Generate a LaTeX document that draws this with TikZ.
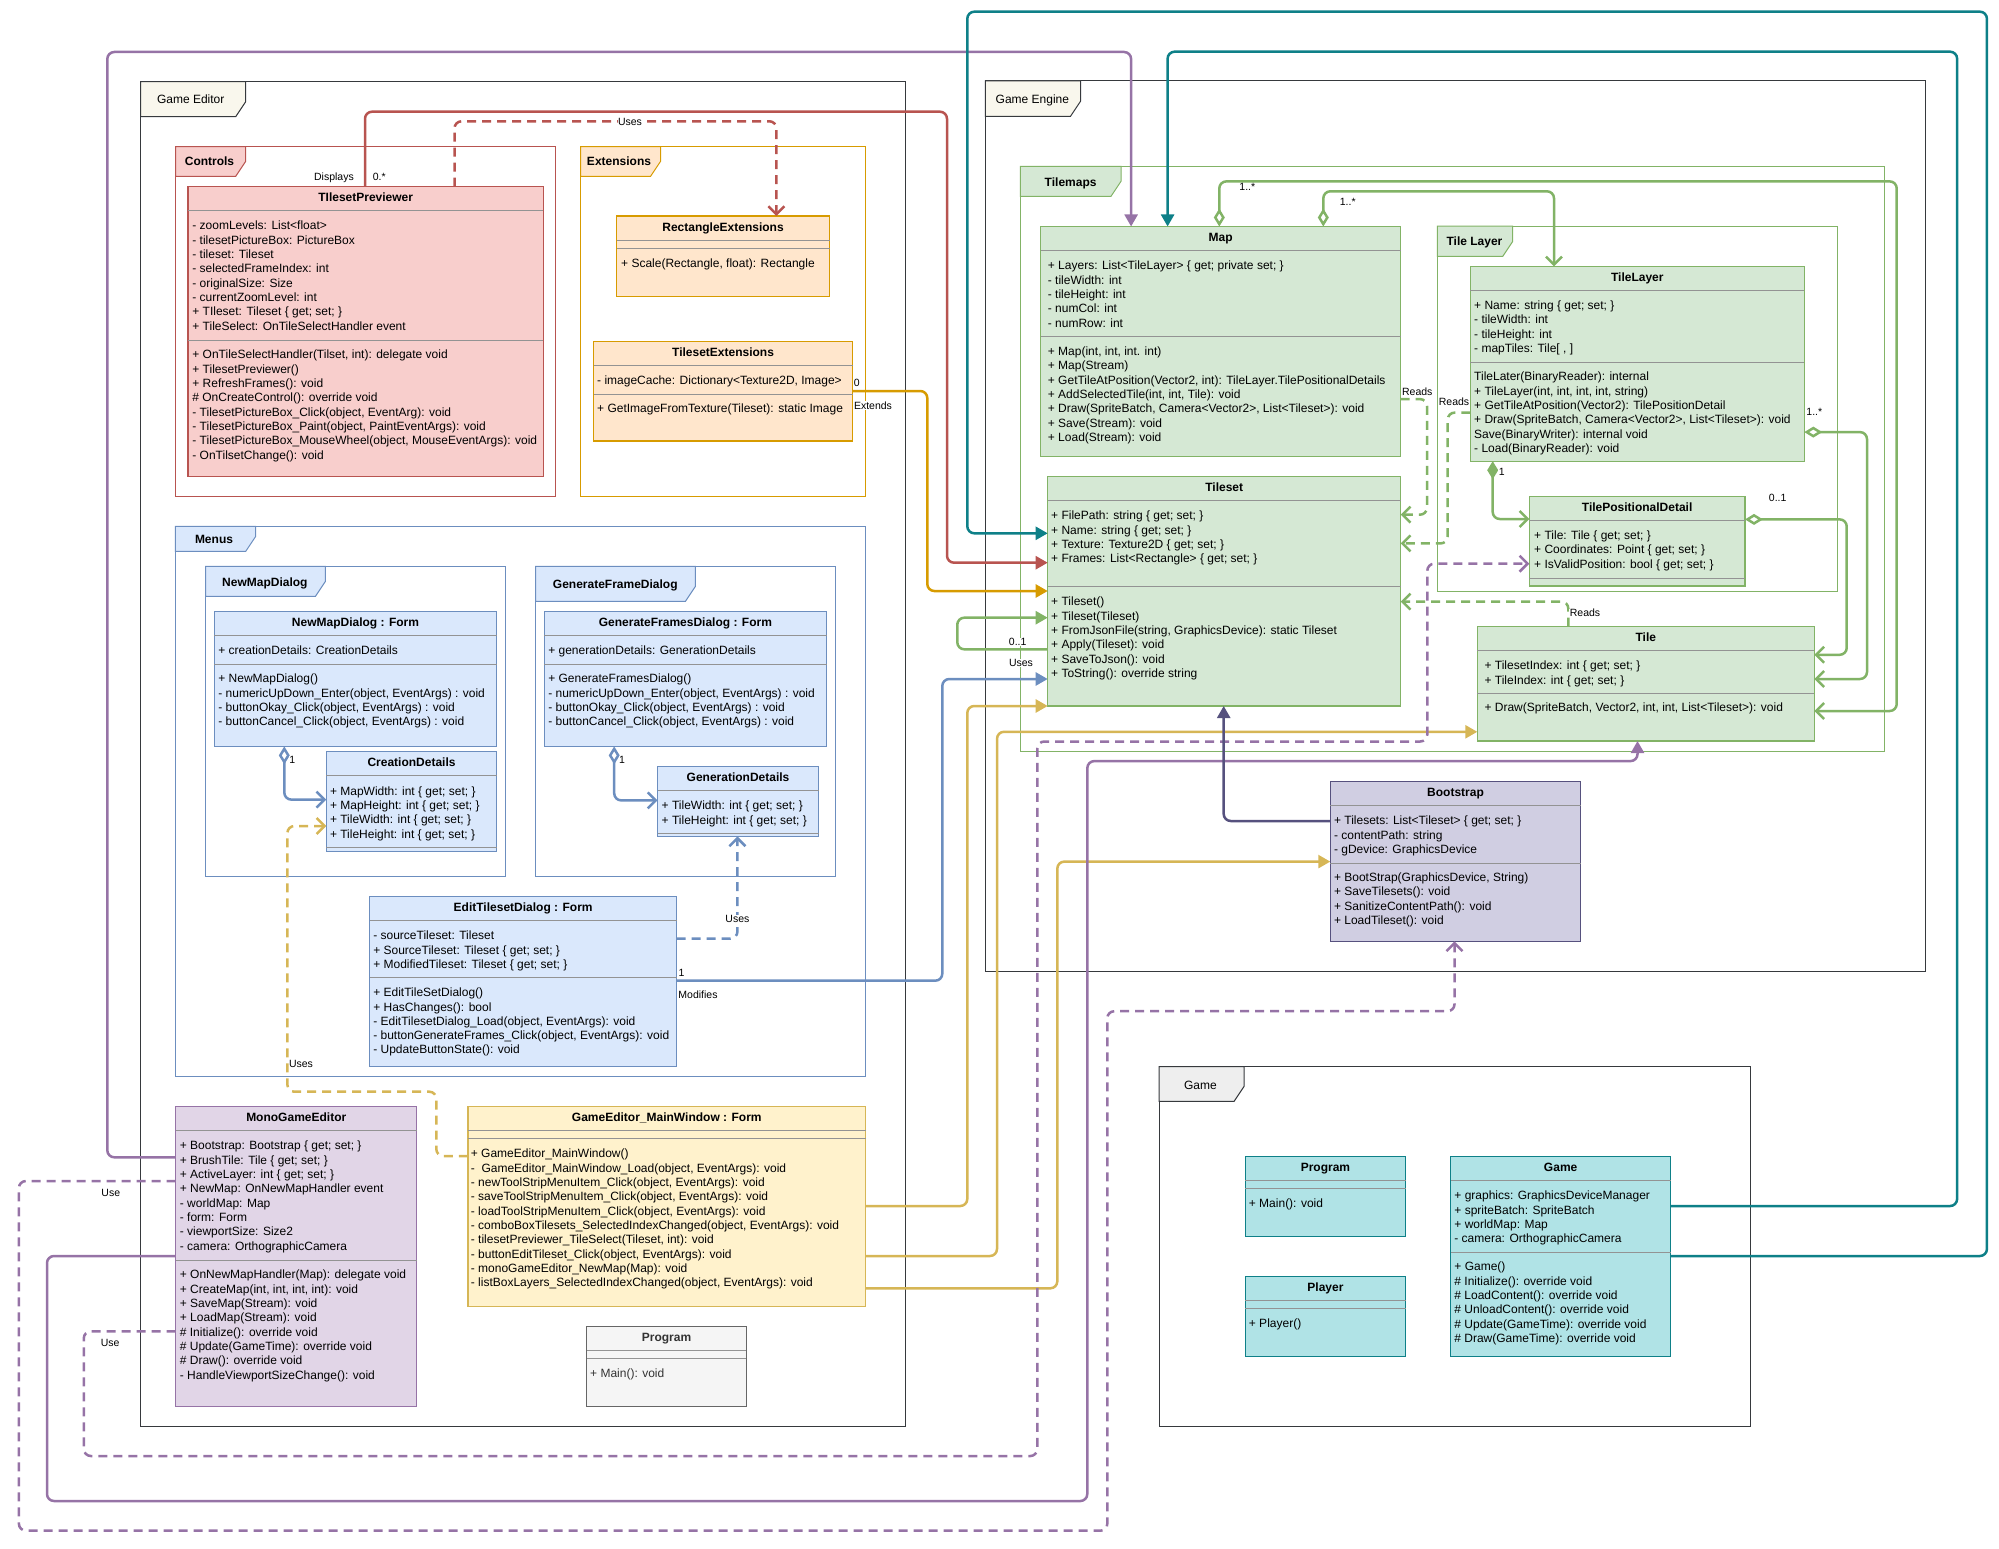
\documentclass[tikz,border=0pt]{standalone}
\usepackage{fontspec}
\setmainfont{Liberation Sans}
\usetikzlibrary{calc,arrows.meta}

\definecolor{cRed}{HTML}{B85450}\definecolor{cRedF}{HTML}{F8CECC}
\definecolor{cOra}{HTML}{D79B00}\definecolor{cOraF}{HTML}{FFE6CC}
\definecolor{cBlu}{HTML}{6C8EBF}\definecolor{cBluF}{HTML}{DAE8FC}
\definecolor{cGrn}{HTML}{82B366}\definecolor{cGrnF}{HTML}{D5E8D4}
\definecolor{cPur}{HTML}{9673A6}\definecolor{cPurF}{HTML}{E1D5E7}
\definecolor{cYel}{HTML}{D6B656}\definecolor{cYelF}{HTML}{FFF2CC}
\definecolor{cDpu}{HTML}{56517E}\definecolor{cDpuF}{HTML}{D0CEE2}
\definecolor{cTea}{HTML}{0E8088}\definecolor{cTeaF}{HTML}{B0E3E6}
\definecolor{cGry}{HTML}{666666}\definecolor{cGryF}{HTML}{F5F5F5}
\definecolor{cFrm}{HTML}{36393D}\definecolor{cFrmF}{HTML}{F9F7ED}
\definecolor{cGamF}{HTML}{EEEEEE}

\tikzset{
  cls/.style={draw, line width=1.2pt, anchor=north west, inner sep=0pt, outer sep=0pt},
  ttl/.style={anchor=base, inner sep=0pt, font=\bfseries\fontsize{12}{14}\selectfont},
  mem/.style={anchor=north west, align=left, inner sep=0pt, font=\fontsize{12}{14.3}\selectfont},
  sep/.style={draw=gray!85, line width=0.9pt},
  frm/.style={line width=1pt},
  flbl/.style={anchor=base, inner sep=0pt, font=\fontsize{12}{14}\selectfont},
  lbl/.style={anchor=base, inner sep=0.5pt, fill=white, font=\fontsize{10.5}{12}\selectfont},
  conn/.style={line width=2.5pt, rounded corners=7pt},
  dsh/.style={dash pattern=on 9pt off 6pt},
  blk/.style={-{Triangle[length=12pt,width=13pt]}},
  opn/.style={-{Straight Barb[length=8pt,width=16pt]}},
  agg/.style={{Diamond[open,length=18pt,width=11pt]}-{Straight Barb[length=8pt,width=16pt]}},
  cmp/.style={{Diamond[length=18pt,width=11pt]}-{Straight Barb[length=8pt,width=16pt]}},
}

% frame: x1,y1,x2,y2,tab x,tab y,stroke,fill
\newcommand\umlframe[8]{%
  \draw[frm,draw=#7] (#1,#2) rectangle (#3,#4);
  \filldraw[frm,draw=#7,fill=#8] (#1,#2) -- (#5,#2) -- (#5,#6-15) -- (#5-10,#6) -- (#1,#6) -- cycle;}

% class: name, style, x, y, w, h, title, separators
\newcommand\umlclass[8]{%
  \node[cls,#2,minimum width=#5pt,minimum height=#6pt] (#1) at (#3,#4) {};
  \node[ttl] (#1-t) at ($(#1.north)+(0,15)$) {#7};
  \foreach \s in {#8} \draw[sep] ($(#1.north west)+(0,\s)$) -- ($(#1.north east)+(0,\s)$);}

\begin{document}
\begin{tikzpicture}[x=1pt,y=-1pt]
  \useasboundingbox (0,0) rectangle (1999,1549);

  % frames
  \umlframe{140.7}{81.7}{905.3}{1426.5}{245.7}{116.7}{cFrm}{cFrmF}
  \node[flbl] (fEditor) at (190.7,103.5) {Game Editor};
  \umlframe{175.7}{146.7}{555.8}{496}{245.7}{176.3}{cRed}{cRedF}
  \node[flbl,font=\bfseries\fontsize{12}{14}\selectfont] (fControls) at (209.5,166) {Controls};
  \umlframe{580.7}{146.7}{865.4}{496}{660.6}{176.3}{cOra}{cOraF}
  \node[flbl,font=\bfseries\fontsize{12}{14}\selectfont] (fExt) at (619,166) {Extensions};
  \umlframe{175.4}{526.4}{865.3}{1076}{255.7}{551.4}{cBlu}{cBluF}
  \node[flbl,font=\bfseries\fontsize{12}{14}\selectfont] (fMenus) at (214,543) {Menus};
  \umlframe{205.7}{566.4}{505.3}{876.1}{325.4}{596.4}{cBlu}{cBluF}
  \node[flbl,font=\bfseries\fontsize{12}{14}\selectfont] (fNewMap) at (264.9,586) {NewMapDialog};
  \umlframe{535.6}{566.4}{835.6}{876.1}{695.4}{601.4}{cBlu}{cBluF}
  \node[flbl,font=\bfseries\fontsize{12}{14}\selectfont] (fGenFrame) at (615.3,588) {GenerateFrameDialog};
  \umlframe{985.3}{81}{1925.4}{971}{1080.5}{116.3}{cFrm}{cFrmF}
  \node[flbl] (fEngine) at (1032.4,103.3) {Game Engine};
  \umlframe{1020.4}{166.3}{1884.9}{751.5}{1121}{196.3}{cGrn}{cGrnF}
  \node[flbl,font=\bfseries\fontsize{12}{14}\selectfont] (fTilemaps) at (1070.6,186.3) {Tilemaps};
  \umlframe{1437.3}{226.2}{1837.3}{591.3}{1512.7}{256.4}{cGrn}{cGrnF}
  \node[flbl,font=\bfseries\fontsize{12}{14}\selectfont] (fTileLayer) at (1474.5,245.8) {Tile Layer};
  \umlframe{1159.2}{1066.7}{1750.5}{1426}{1244.1}{1101.3}{cFrm}{cGamF}
  \node[flbl] (fGame) at (1200.4,1089) {Game};

  % Game Editor classes
  \umlclass{tsp}{draw=cRed,fill=cRedF}{188}{186.7}{355.4}{289.6}{TIlesetPreviewer}{23.6,154}
  \node[mem] (tspA) at (192.2,219.7) {\strut- zoomLevels: List<float>\\- tilesetPictureBox: PictureBox\\- tileset: Tileset\\- selectedFrameIndex: int\\- originalSize: Size\\- currentZoomLevel: int\\+ TIleset: Tileset \{ get; set; \}\\+ TileSelect: OnTileSelectHandler event};
  \node[mem] (tspM) at (192.2,348.7) {\strut+ OnTileSelectHandler(Tilset, int): delegate void\\+ TilesetPreviewer()\\+ RefreshFrames(): void\\\# OnCreateControl(): override void\\- TilesetPictureBox\_Click(object, EventArg): void\\- TilesetPictureBox\_Paint(object, PaintEventArgs): void\\- TilesetPictureBox\_MouseWheel(object, MouseEventArgs): void\\- OnTilsetChange(): void};

  \umlclass{rext}{draw=cOra,fill=cOraF}{616.6}{216}{212.9}{80.3}{RectangleExtensions}{24.3,32.3}
  \node[mem] (rextM) at (621,257.7) {\strut+ Scale(Rectangle, float): Rectangle};
  \umlclass{text}{draw=cOra,fill=cOraF}{593.6}{341.7}{258.9}{99.3}{TilesetExtensions}{23.6,52.3}
  \node[mem] (textA) at (597,374.7) {\strut- imageCache: Dictionary<Texture2D, Image>};
  \node[mem] (textM) at (597,402.7) {\strut+ GetImageFromTexture(Tileset): static Image};

  \umlclass{nmd}{draw=cBlu,fill=cBluF}{214.2}{611.4}{282.6}{135}{NewMapDialog : Form}{24,53.2}
  \node[mem] (nmdA) at (218.2,644.7) {\strut+ creationDetails: CreationDetails};
  \node[mem] (nmdM) at (218.2,672.6) {\strut+ NewMapDialog()\\- numericUpDown\_Enter(object, EventArgs) : void\\- buttonOkay\_Click(object, EventArgs) : void\\- buttonCancel\_Click(object, EventArgs) : void};
  \umlclass{cdet}{draw=cBlu,fill=cBluF}{326.3}{751.4}{170.5}{100}{CreationDetails}{24,95.7}
  \node[mem] (cdetA) at (329.8,785) {\strut+ MapWidth: int \{ get; set; \}\\+ MapHeight: int \{ get; set; \}\\+ TileWidth: int \{ get; set; \}\\+ TileHeight: int \{ get; set; \}};

  \umlclass{gfd}{draw=cBlu,fill=cBluF}{544.1}{611.4}{282.6}{135}{GenerateFramesDialog : Form}{24,53.2}
  \node[mem] (gfdA) at (548.1,644.7) {\strut+ generationDetails: GenerationDetails};
  \node[mem] (gfdM) at (548.1,672.6) {\strut+ GenerateFramesDialog()\\- numericUpDown\_Enter(object, EventArgs) : void\\- buttonOkay\_Click(object, EventArgs) : void\\- buttonCancel\_Click(object, EventArgs) : void};
  \umlclass{gdet}{draw=cBlu,fill=cBluF}{657.5}{766.4}{161.1}{70}{GenerationDetails}{24,66.8}
  \node[mem] (gdetA) at (661.5,799.7) {\strut+ TileWidth: int \{ get; set; \}\\+ TileHeight: int \{ get; set; \}};

  \umlclass{etd}{draw=cBlu,fill=cBluF}{369.6}{896.8}{307.1}{169.6}{EditTilesetDialog : Form}{23.6,81.1}
  \node[mem] (etdA) at (373.1,929.7) {\strut- sourceTileset: Tileset\\+ SourceTileset: Tileset \{ get; set; \}\\+ ModifiedTileset: Tileset \{ get; set; \}};
  \node[mem] (etdM) at (373.1,986.5) {\strut+ EditTileSetDialog()\\+ HasChanges(): bool\\- EditTilesetDialog\_Load(object, EventArgs): void\\- buttonGenerateFrames\_Click(object, EventArgs): void\\- UpdateButtonState(): void};

  \umlclass{mge}{draw=cPur,fill=cPurF}{175.7}{1106.3}{241.1}{300}{MonoGameEditor}{24,154}
  \node[mem] (mgeA) at (179.7,1139.7) {\strut+ Bootstrap: Bootstrap \{ get; set; \}\\+ BrushTile: Tile \{ get; set; \}\\+ ActiveLayer: int \{ get; set; \}\\+ NewMap: OnNewMapHandler event\\- worldMap: Map\\- form: Form\\- viewportSize: Size2\\- camera: OrthographicCamera};
  \node[mem] (mgeM) at (179.7,1268.7) {\strut+ OnNewMapHandler(Map): delegate void\\+ CreateMap(int, int, int, int): void\\+ SaveMap(Stream): void\\+ LoadMap(Stream): void\\\# Initialize(): override void\\\# Update(GameTime): override void\\\# Draw(): override void\\- HandleViewportSizeChange(): void};

  \umlclass{gmw}{draw=cYel,fill=cYelF}{467.9}{1106.3}{397.8}{200}{GameEditor\_MainWindow : Form}{24,32}
  \node[mem] (gmwM) at (470.7,1147.7) {\strut+ GameEditor\_MainWindow()\\-\ \ GameEditor\_MainWindow\_Load(object, EventArgs): void\\- newToolStripMenuItem\_Click(object, EventArgs): void\\- saveToolStripMenuItem\_Click(object, EventArgs): void\\- loadToolStripMenuItem\_Click(object, EventArgs): void\\- comboBoxTilesets\_SelectedIndexChanged(object, EventArgs): void\\- tilesetPreviewer\_TileSelect(Tileset, int): void\\- buttonEditTileset\_Click(object, EventArgs): void\\- monoGameEditor\_NewMap(Map): void\\- listBoxLayers\_SelectedIndexChanged(object, EventArgs): void};

  \umlclass{eprog}{draw=cGry,fill=cGryF,text=black!80}{586.7}{1326.3}{159.6}{80}{\color{black!80}Program}{24,32}
  \node[mem,text=black!80] (eprogM) at (590,1367.7) {\strut+ Main(): void};

  % Game Engine classes
  \umlclass{map}{draw=cGrn,fill=cGrnF}{1040.5}{226.5}{360.2}{229.7}{Map}{24.1,110.3}
  \node[mem] (mapA) at (1047.7,259.6) {\strut+ Layers: List<TileLayer> \{ get; private set; \}\\- tileWidth: int\\- tileHeight: int\\- numCol: int\\- numRow: int};
  \node[mem] (mapM) at (1047.7,345.3) {\strut+ Map(int, int, int. int)\\+ Map(Stream)\\+ GetTileAtPosition(Vector2, int): TileLayer.TilePositionalDetails\\+ AddSelectedTile(int, int, Tile): void\\+ Draw(SpriteBatch, Camera<Vector2>, List<Tileset>): void\\+ Save(Stream): void\\+ Load(Stream): void};

  \umlclass{tset}{draw=cGrn,fill=cGrnF}{1047.7}{476.4}{353}{229.6}{Tileset}{23.8,109.9}
  \node[mem] (tsetA) at (1051,509.5) {\strut+ FilePath: string \{ get; set; \}\\+ Name: string \{ get; set; \}\\+ Texture: Texture2D \{ get; set; \}\\+ Frames: List<Rectangle> \{ get; set; \}};
  \node[mem] (tsetM) at (1051,595.6) {\strut+ Tileset()\\+ Tileset(Tileset)\\+ FromJsonFile(string, GraphicsDevice): static Tileset\\+ Apply(Tileset): void\\+ SaveToJson(): void\\+ ToString(): override string};

  \umlclass{tl}{draw=cGrn,fill=cGrnF}{1470.3}{266.4}{334}{194.8}{TileLayer}{24.1,96.1}
  \node[mem] (tlA) at (1474,299.4) {\strut+ Name: string \{ get; set; \}\\- tileWidth: int\\- tileHeight: int\\- mapTiles: Tile[ , ]};
  \node[mem] (tlM) at (1474,370.6) {\strut TileLater(BinaryReader): internal\\+ TileLayer(int, int, int, int, string)\\+ GetTileAtPosition(Vector2): TilePositionDetail\\+ Draw(SpriteBatch, Camera<Vector2>, List<Tileset>): void\\Save(BinaryWriter): internal void\\- Load(BinaryReader): void};

  \umlclass{tpd}{draw=cGrn,fill=cGrnF}{1529.3}{496.4}{215.7}{89.6}{TilePositionalDetail}{23.7,81.9}
  \node[mem] (tpdA) at (1534,529.4) {\strut+ Tile: Tile \{ get; set; \}\\+ Coordinates: Point \{ get; set; \}\\+ IsValidPosition: bool \{ get; set; \}};

  \umlclass{tile}{draw=cGrn,fill=cGrnF}{1477.3}{626.5}{337}{114.5}{Tile}{24.1,66.6}
  \node[mem] (tileA) at (1484.3,659.5) {\strut+ TilesetIndex: int \{ get; set; \}\\+ TileIndex: int \{ get; set; \}};
  \node[mem] (tileM) at (1484.3,701.6) {\strut+ Draw(SpriteBatch, Vector2, int, int, List<Tileset>): void};

  \umlclass{boot}{draw=cDpu,fill=cDpuF}{1330.3}{781.3}{250.4}{160}{Bootstrap}{24,82}
  \node[mem] (bootA) at (1333.8,814.7) {\strut+ Tilesets: List<Tileset> \{ get; set; \}\\- contentPath: string\\- gDevice: GraphicsDevice};
  \node[mem] (bootM) at (1333.8,871.3) {\strut+ BootStrap(GraphicsDevice, String)\\+ SaveTilesets(): void\\+ SanitizeContentPath(): void\\+ LoadTileset(): void};

  % Game classes
  \umlclass{gprog}{draw=cTea,fill=cTeaF}{1245.3}{1156.7}{160.3}{79.6}{Program}{23.6,31.6}
  \node[mem] (gprogM) at (1248.7,1197.7) {\strut+ Main(): void};
  \umlclass{player}{draw=cTea,fill=cTeaF}{1245.3}{1276.7}{160.3}{79.6}{Player}{23.6,31.6}
  \node[mem] (playerM) at (1248.7,1317.7) {\strut+ Player()};
  \umlclass{game}{draw=cTea,fill=cTeaF}{1450.8}{1156.7}{219.7}{199.6}{Game}{23.6,95.6}
  \node[mem] (gameA) at (1454.2,1189.7) {\strut+ graphics: GraphicsDeviceManager\\+ spriteBatch: SpriteBatch\\+ worldMap: Map\\- camera: OrthographicCamera};
  \node[mem] (gameM) at (1454.2,1260.7) {\strut+ Game()\\\# Initialize(): override void\\\# LoadContent(): override void\\\# UnloadContent(): override void\\\# Update(GameTime): override void\\\# Draw(GameTime): override void};

  % connectors, editor side
  \draw[conn,cRed,blk] ($(tsp.north west)+(177,0)$) |- (947,111.7) |- ($(tset.north west)+(0,86.3)$);
  \draw[conn,cRed,dsh,opn] ($(tsp.north west)+(266.5,0)$) |- (600,121.3) -| ($(rext.north west)+(159.8,0)$);
  \draw[conn,cOra,blk] ($(text.north east)+(0,49.3)$) -| (927.3,500) |- ($(tset.north west)+(0,114.6)$);
  \draw[conn,cBlu,blk] ($(etd.north east)+(0,83.9)$) -| (942.3,800) |- ($(tset.north west)+(0,202.6)$);
  \draw[conn,cGrn,blk] ($(tset.north west)+(0,172.9)$) -| (957.3,630) |- ($(tset.north west)+(0,141.3)$);
  \draw[conn,cYel,blk] ($(gmw.north east)+(0,99.7)$) -| (967.3,900) |- (tset.south west);
  \draw[conn,cYel,blk] ($(gmw.north east)+(0,149.7)$) -| (997,900) |- ($(tile.north west)+(0,105.3)$);
  \draw[conn,cYel,blk] ($(gmw.north east)+(0,182)$) -| (1057.3,1000) |- ($(boot.north west)+(0,80.3)$);
  \draw[conn,cYel,dsh,opn] ($(gmw.north west)+(0,49.7)$) -| (436.3,1091.7) -| (287.4,826) -- ($(cdet.north west)+(0,74.6)$);
  \draw[conn,cBlu,dsh,opn] ($(etd.north east)+(0,41.8)$) -| ($(gdet.south west)+(79.9,0)$);
  \draw[conn,cBlu,agg] ($(nmd.south west)+(70.1,0)$) |- ($(cdet.north west)+(0,48.2)$);
  \draw[conn,cBlu,agg] ($(gfd.south west)+(70.1,0)$) |- ($(gdet.north west)+(0,34)$);
  \draw[conn,cPur,blk] ($(mge.north west)+(0,51)$) -| (107.3,52) -| ($(map.north west)+(90.6,0)$);
  \draw[conn,cPur,blk] ($(mge.north west)+(0,149.7)$) -| (47,1501) -| (1087.3,761.1) -| ($(tile.south west)+(160.2,0)$);
  \draw[conn,cPur,dsh,opn] ($(mge.north west)+(0,74.7)$) -| (18.9,1530.7) -| (1107.3,1011.2) -| ($(boot.south west)+(124.2,0)$);
  \draw[conn,cPur,dsh,opn] ($(mge.north west)+(0,225)$) -| (83.8,1456) -| (1037.3,741.5) -| (1427.3,563.7) -- ($(tpd.north west)+(0,67.3)$);

  % connectors, engine side
  \draw[conn,cDpu,blk] ($(boot.north west)+(0,39.7)$) -| ($(tset.south west)+(176,0)$);
  \draw[conn,cTea,blk] ($(game.north east)+(0,49.3)$) -| (1957.1,51.7) -| ($(map.north west)+(127.1,0)$);
  \draw[conn,cTea,blk] ($(game.north east)+(0,99.3)$) -| (1986.9,11.7) -| (967.3,533.3) -- ($(tset.north west)+(0,56.9)$);
  \draw[conn,cGrn,dsh,opn] ($(map.north east)+(0,172.6)$) -| (1427,514.7) -- ($(tset.north east)+(0,38.3)$);
  \draw[conn,cGrn,dsh,opn] ($(tl.north west)+(0,146.2)$) -| (1447.7,543.4) -- ($(tset.north east)+(0,67)$);
  \draw[conn,cGrn,dsh,opn] ($(tile.north west)+(91,0)$) |- ($(tset.north east)+(0,125.2)$);
  \draw[conn,cGrn,cmp] ($(tl.south west)+(22.4,0)$) |- ($(tpd.north west)+(0,22.6)$);
  \draw[conn,cGrn,agg] ($(tpd.north east)+(0,23)$) -| (1846.7,654.8) -- ($(tile.north east)+(0,28.3)$);
  \draw[conn,cGrn,agg] ($(tl.north east)+(0,165.7)$) -| (1867,679) -- ($(tile.north east)+(0,52.5)$);
  \draw[conn,cGrn,agg] ($(map.north west)+(178.8,0)$) |- (1896.7,181.4) |- ($(tile.north east)+(0,84.5)$);
  \draw[conn,cGrn,agg] ($(map.north west)+(282.8,0)$) |- (1554,191.3) -- ($(tl.north west)+(83.7,0)$);

  % connector labels
  \node[lbl] (lDisp) at (334,180.8) {Displays};
  \node[lbl] (lDispM) at (379.3,180.8) {0.*};
  \node[lbl] (lUsesR) at (630,125.1) {Uses};
  \node[lbl] (lExt0) at (856.7,386.8) {0};
  \node[lbl] (lExt) at (873,409.1) {Extends};
  \node[lbl] (lMod1) at (681.5,976.7) {1};
  \node[lbl] (lMod) at (698,998.8) {Modifies};
  \node[lbl] (lModU) at (1021,666.5) {Uses};
  \node[lbl] (lSelf) at (1017.7,645.5) {0..1};
  \node[lbl] (lUsesY) at (301,1067) {Uses};
  \node[lbl] (lUsesB) at (737.4,922.8) {Uses};
  \node[lbl] (lNmd1) at (292.3,763.8) {1};
  \node[lbl] (lGfd1) at (622,763.8) {1};
  \node[lbl] (lUse1) at (110.8,1196.1) {Use};
  \node[lbl] (lUse2) at (110.2,1346.1) {Use};
  \node[lbl] (lRd1) at (1417.3,395.7) {Reads};
  \node[lbl] (lRd2) at (1454,405.7) {Reads};
  \node[lbl] (lRd3) at (1585,616.8) {Reads};
  \node[lbl] (lCmp1) at (1501.7,475.7) {1};
  \node[lbl] (lTpd) at (1777.7,501.8) {0..1};
  \node[lbl] (lTl) at (1814.3,415.6) {1..*};
  \node[lbl] (lMap1) at (1247.3,190.9) {1..*};
  \node[lbl] (lMap2) at (1347.7,205.5) {1..*};
\end{tikzpicture}
\end{document}
